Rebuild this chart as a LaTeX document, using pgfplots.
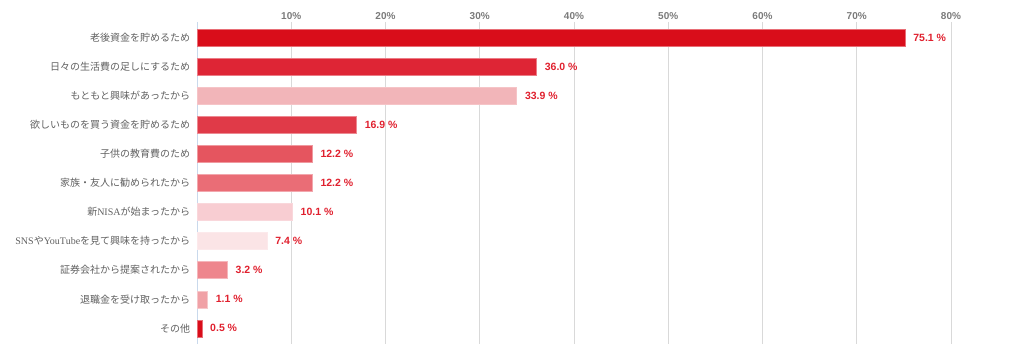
\documentclass[border=0pt]{standalone}
\usepackage{pgfplots}
\pgfplotsset{compat=1.18}
\usepackage{fontspec}
\setmainfont{Liberation Sans}
\newfontfamily\jp{Noto Sans CJK JP}
\newfontfamily\tms{Liberation Serif}
\definecolor{c1}{HTML}{D90D1A}
\definecolor{c2}{HTML}{DE2535}
\definecolor{c3}{HTML}{F2B5B9}
\definecolor{c4}{HTML}{E03A48}
\definecolor{c5}{HTML}{E5555F}
\definecolor{c6}{HTML}{EA6D76}
\definecolor{c7}{HTML}{F8CDD2}
\definecolor{c8}{HTML}{FBE4E6}
\definecolor{c9}{HTML}{EE868D}
\definecolor{c10}{HTML}{F0A1A6}
\definecolor{c11}{HTML}{D90D1A}
\definecolor{valred}{HTML}{E0202E}
\definecolor{axblue}{HTML}{C9D9EC}
\definecolor{tickgray}{HTML}{7A7A7A}
\definecolor{labgray}{HTML}{606060}
\begin{document}
\begin{tikzpicture}
\path[use as bounding box] (-197pt,-10pt) rectangle (827pt,344pt);
\begin{axis}[
  at={(0pt,0pt)}, anchor=south west,
  scale only axis,
  width=754pt, height=322pt,
  xbar, bar shift=0pt, bar width=17pt,
  xmin=0, xmax=80,
  ymin=-0.53, ymax=10.54,
  y dir=reverse,
  axis x line*=top, axis y line*=left,
  x axis line style={draw=none},
  y axis line style={draw=axblue, line width=0.8pt},
  /pgf/number format/assume math mode=true,
  xtick={10,20,...,80},
  xticklabel={\textbf{\pgfmathprintnumber{\tick}\%}},
  xticklabel style={font=\fontsize{10}{12}\selectfont, text=tickgray, yshift=-1pt},
  major x tick style={draw=none},
  xmajorgrids,
  x grid style={draw=black!15, line width=0.8pt},
  ytick={0,...,10},
  yticklabels={老後資金を貯めるため,
    日々の生活費の足しにするため,
    もともと興味があったから,
    欲しいものを買う資金を貯めるため,
    子供の教育費のため,
    家族・友人に勧められたから,
    新{\tms NISA}が始まったから,
    {\tms SNS}や{\tms YouTube}を見て興味を持ったから,
    証券会社から提案されたから,
    退職金を受け取ったから,
    その他},
  yticklabel style={font=\jp\fontsize{10}{12}\selectfont, text=labgray, xshift=1pt},
  major y tick style={draw=none},
  extra y ticks={-0.5,0.5,...,9.5,10.5},
  extra y tick labels={},
  extra y tick style={tick style={draw=axblue, line width=0.8pt}, major tick length=4pt, tick align=outside},
  nodes near coords={\textbf{\pgfmathprintnumber[fixed,fixed zerofill,precision=1]{\pgfplotspointmeta}~\%}},
  nodes near coords style={font=\fontsize{10.5}{12}\selectfont, text=valred, anchor=west, xshift=5pt},
  point meta=x,
  clip=false,
]
\addplot[fill=c1, draw=c1!60] coordinates {(75.1,0)};
\addplot[fill=c2, draw=c2!60] coordinates {(36.0,1)};
\addplot[fill=c3, draw=c3!80] coordinates {(33.9,2)};
\addplot[fill=c4, draw=c4!60] coordinates {(16.9,3)};
\addplot[fill=c5, draw=c5!60] coordinates {(12.2,4)};
\addplot[fill=c6, draw=c6!60] coordinates {(12.2,5)};
\addplot[fill=c7, draw=c7!80] coordinates {(10.1,6)};
\addplot[fill=c8, draw=c8!80] coordinates {(7.4,7)};
\addplot[fill=c9, draw=c9!60] coordinates {(3.2,8)};
\addplot[fill=c10, draw=c10!60] coordinates {(1.1,9)};
\addplot[fill=c11, draw=c11!60] coordinates {(0.5,10)};
\end{axis}
\end{tikzpicture}
\end{document}
